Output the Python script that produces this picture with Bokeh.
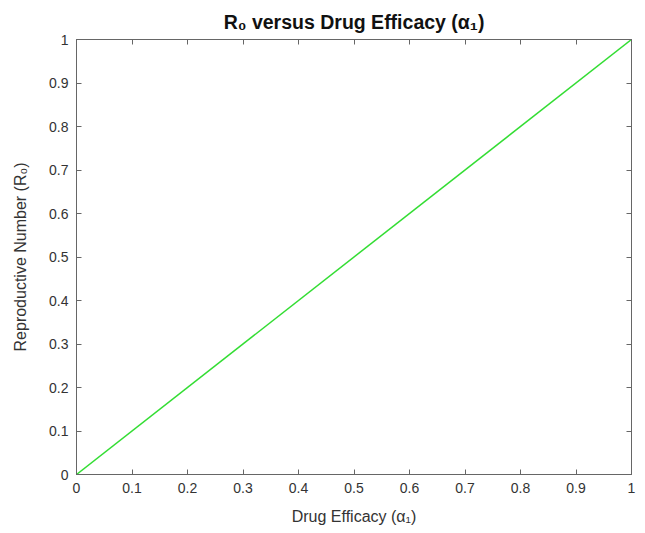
from bokeh.plotting import figure
from bokeh.models import LinearAxis, FixedTicker, Range1d
from bokeh.embed import file_html
from bokeh.resources import INLINE

efficacy = [0.0, 1.0]
r0 = [0.0, 1.0]
tick_vals = [0, 0.1, 0.2, 0.3, 0.4, 0.5, 0.6, 0.7, 0.8, 0.9, 1]
tick_labels = ["0", "0.1", "0.2", "0.3", "0.4", "0.5", "0.6", "0.7", "0.8", "0.9", "1"]

FONT = "Liberation Sans"
TXT = "#333333"
AX = "#666666"

p = figure(width=645, height=533, output_backend="svg", toolbar_location=None,
           x_range=Range1d(0, 1), y_range=Range1d(0, 1),
           min_border_left=76, min_border_right=14, min_border_top=39, min_border_bottom=59,
           x_axis_location=None, y_axis_location=None)
p.grid.visible = False
p.outline_line_color = AX
p.outline_line_width = 1
p.background_fill_color = "white"
p.border_fill_color = "white"

p.title.text = "R₀ versus Drug Efficacy (α₁)"
p.title.align = "center"
p.title.text_font = FONT
p.title.text_font_size = "19.5px"
p.title.text_font_style = "bold"
p.title.text_color = "#111111"
p.title.standoff = 14

overrides = {v: s for v, s in zip(tick_vals, tick_labels)}
blank = {v: "" for v in tick_vals}

def make_axis(labels):
    ax = LinearAxis(ticker=FixedTicker(ticks=tick_vals), major_label_overrides=labels)
    ax.axis_line_color = AX
    ax.major_tick_line_color = AX
    ax.major_tick_in = 5
    ax.major_tick_out = 0
    ax.minor_tick_line_color = None
    ax.major_label_text_font = FONT
    ax.major_label_text_font_size = "14px"
    ax.major_label_text_color = TXT
    ax.major_label_standoff = 8
    ax.axis_label_text_font = FONT
    ax.axis_label_text_font_size = "16px"
    ax.axis_label_text_font_style = "normal"
    ax.axis_label_text_color = TXT
    return ax

xb = make_axis(overrides)
xb.axis_label = "Drug Efficacy (α₁)"
xb.axis_label_standoff = 12
yl = make_axis(overrides)
yl.axis_label = "Reproductive Number (R₀)"
yl.axis_label_standoff = 17
xt = make_axis(blank)
xt.major_label_text_font_size = "0px"
xt.major_label_standoff = 0
yr = make_axis(blank)
yr.major_label_text_font_size = "0px"
yr.major_label_standoff = 0

p.add_layout(xb, "below")
p.add_layout(yl, "left")
p.add_layout(xt, "above")
p.add_layout(yr, "right")

p.line(efficacy, r0, line_color="#33dd33", line_width=1.5)

open("out.html", "w").write(file_html(p, INLINE))
